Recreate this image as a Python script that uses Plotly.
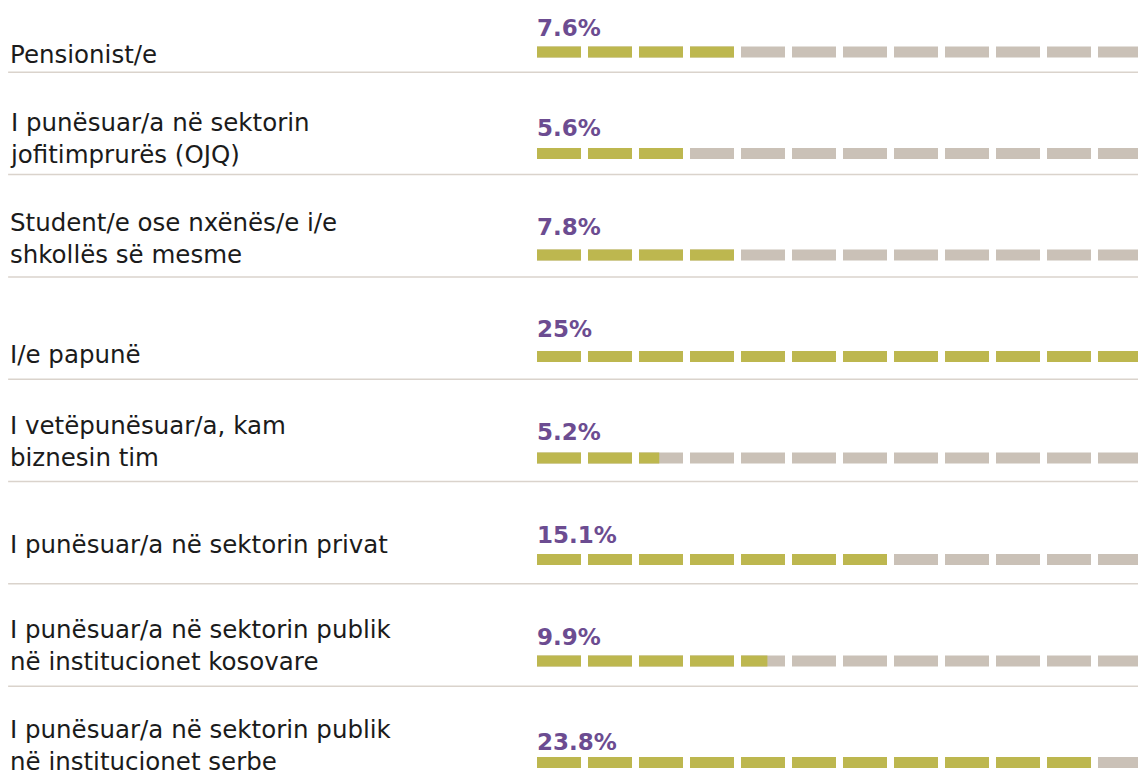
import plotly.graph_objects as go

# ---- data ----
categories = [
    "Pensionist/e",
    "I punësuar/a në sektorin<br>jofitimprurës (OJQ)",
    "Student/e ose nxënës/e i/e<br>shkollës së mesme",
    "I/e papunë",
    "I vetëpunësuar/a, kam<br>biznesin tim",
    "I punësuar/a në sektorin privat",
    "I punësuar/a në sektorin publik<br>në institucionet kosovare",
    "I punësuar/a në sektorin publik<br>në institucionet serbe",
]
shares = [7.6, 5.6, 7.8, 25, 5.2, 15.1, 9.9, 23.8]
# filled segments (out of 12)
filled_segments = [4.0, 3.0, 4.0, 12.0, 2.46, 7.0, 4.6, 11.0]
n_segments = 12

# ---- style ----
OLIVE = "#BDB74F"
GRAY = "#CAC1B7"
PURPLE = "#6C4C91"
SEP = "#DAD3CC"
TEXT = "#1B1B1B"
seg_len = 44 / 51  # segment length relative to pitch
bar_w = 0.108

gy, gb, gx = [], [], []
oy, ob, ox = [], [], []
for i, f in enumerate(filled_segments):
    for k in range(n_segments):
        gy.append(i); gb.append(k); gx.append(seg_len)
        frac = min(1.0, max(0.0, f - k))
        if frac > 0:
            oy.append(i); ob.append(k); ox.append(frac * seg_len)

fig = go.Figure()
fig.add_trace(go.Bar(orientation="h", y=gy, base=gb, x=gx, width=bar_w,
                     marker=dict(color=GRAY, line=dict(width=0)),
                     hoverinfo="skip", showlegend=False))
fig.add_trace(go.Bar(orientation="h", y=oy, base=ob, x=ox, width=bar_w,
                     marker=dict(color=OLIVE, line=dict(width=0)),
                     hoverinfo="skip", showlegend=False))

label_offsets = [0.02, -0.15, -0.16, -0.02, -0.16, -0.15, -0.15, -0.17]
pct_offsets = [-0.24, -0.25, -0.28, -0.27, -0.26, -0.24, -0.24, -0.2]

annotations = []
for i, (cat, s) in enumerate(zip(categories, shares)):
    annotations.append(dict(x=-10.37, y=i + label_offsets[i], text=cat,
                            xanchor="left", yanchor="middle", align="left",
                            showarrow=False,
                            font=dict(family="DejaVu Sans", size=24.5, color=TEXT)))
    annotations.append(dict(x=-0.04, y=i + pct_offsets[i], text=f"<b>{s:g}%</b>",
                            xanchor="left", yanchor="middle", showarrow=False,
                            font=dict(family="DejaVu Sans", size=23, color=PURPLE)))

shapes = []
for i in range(len(categories) - 1):
    shapes.append(dict(type="line", xref="x", yref="y", x0=-10.37, x1=12,
                       y0=i + 0.2 + i * 0.008, y1=i + 0.2 + i * 0.008,
                       line=dict(color=SEP, width=1.5), layer="below"))

fig.update_layout(
    width=1138, height=783,
    margin=dict(l=0, r=0, t=0, b=0),
    plot_bgcolor="white", paper_bgcolor="white",
    barmode="overlay",
    xaxis=dict(range=[-537 / 51, (1138 - 537) / 51], visible=False, fixedrange=True),
    yaxis=dict(range=[(783 - 52) / 101.5, -52 / 101.5], visible=False, fixedrange=True),
    annotations=annotations, shapes=shapes,
)

fig.write_html("out.html", config={"displayModeBar": False},
               post_script="document.body.style.margin='0';document.body.style.overflow='hidden';")
